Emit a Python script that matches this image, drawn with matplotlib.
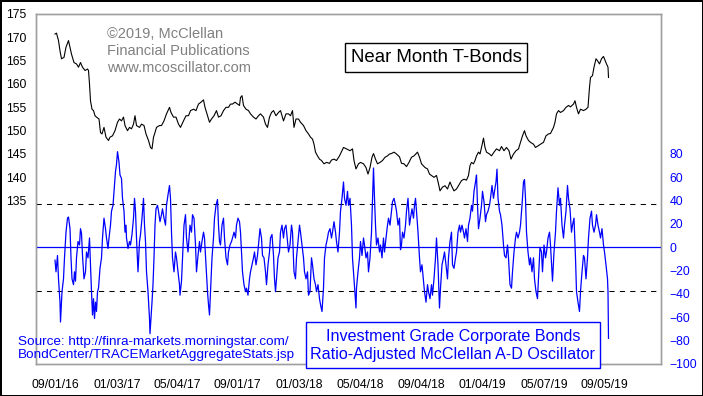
import matplotlib.pyplot as plt
import pandas as pd
from matplotlib.patches import Rectangle

plt.rcParams['font.family'] = ['Liberation Sans', 'DejaVu Sans']

start = pd.Timestamp('2016-09-01')

# Near month T-Bond price (days after 09/01/16, price)
bond_days = [0, 3, 7, 10, 13, 18, 22, 27, 30, 33,
             38, 43, 47, 51, 55, 60, 65, 67, 69, 71,
             74, 77, 80, 83, 88, 91, 94, 98, 102, 107,
             110, 115, 120, 125, 129, 133, 137, 140, 145, 149,
             153, 157, 160, 163, 169, 173, 178, 182, 187, 191,
             194, 197, 200, 203, 209, 213, 218, 223, 229, 232,
             237, 242, 247, 251, 257, 262, 267, 271, 277, 282,
             287, 292, 297, 300, 305, 309, 313, 318, 323, 327,
             332, 337, 342, 347, 351, 355, 360, 365, 369, 371,
             374, 377, 382, 387, 391, 397, 402, 407, 411, 417,
             421, 425, 429, 433, 437, 442, 447, 451, 457, 462,
             467, 471, 475, 478, 482, 487, 491, 497, 502, 507,
             511, 515, 518, 521, 525, 529, 533, 538, 543, 549,
             553, 558, 563, 569, 577, 583, 590, 595, 598, 602,
             607, 611, 617, 622, 626, 630, 634, 637, 641, 645,
             650, 655, 660, 665, 669, 673, 678, 683, 689, 693,
             698, 703, 708, 713, 718, 725, 729, 733, 740, 745,
             749, 753, 758, 763, 767, 770, 775, 780, 785, 790,
             793, 798, 803, 809, 813, 818, 823, 827, 830, 833,
             837, 840, 843, 847, 850, 853, 857, 860, 863, 869,
             873, 878, 883, 889, 893, 898, 903, 908, 912, 917,
             922, 927, 931, 935, 939, 942, 947, 951, 957, 961,
             967, 971, 977, 982, 987, 991, 997, 1000, 1003, 1007,
             1011, 1017, 1022, 1027, 1031, 1037, 1040, 1043, 1047, 1051,
             1057, 1062, 1066, 1069, 1071, 1075, 1078, 1082, 1085, 1089,
             1093, 1097, 1100, 1103, 1106, 1107]
bond_price = [170.7, 170.9, 169.3, 167.1, 165.4, 165.7, 167.9, 169.3, 167.9, 166.4,
              164.6, 164.3, 163.6, 164.6, 163.6, 162.9, 163.2, 162.9, 160.0, 156.4,
              154.6, 154.3, 153.2, 152.9, 152.5, 149.6, 149.3, 150.7, 148.6, 147.9,
              148.6, 148.9, 150.0, 151.8, 152.5, 152.1, 152.9, 151.1, 150.0, 150.7,
              150.4, 151.4, 153.2, 151.1, 150.7, 151.4, 151.1, 149.3, 147.9, 146.4,
              146.1, 148.6, 149.6, 150.7, 151.1, 151.1, 152.1, 153.6, 155.0, 153.9,
              152.9, 152.9, 151.4, 150.7, 152.1, 153.2, 153.2, 154.3, 154.6, 154.3,
              155.7, 156.1, 156.6, 155.0, 153.2, 151.8, 152.5, 153.2, 154.3, 152.9,
              153.2, 154.3, 155.0, 155.0, 155.7, 155.7, 156.1, 155.7, 155.4, 157.1,
              157.5, 155.4, 154.6, 154.3, 153.6, 152.9, 152.5, 153.2, 153.6, 152.9,
              151.4, 150.7, 152.9, 153.9, 154.3, 153.2, 153.9, 154.3, 152.1, 153.6,
              153.6, 153.2, 154.3, 150.7, 152.5, 152.5, 151.8, 151.1, 150.0, 149.3,
              148.6, 148.2, 147.1, 145.4, 144.6, 143.9, 143.6, 142.9, 143.2, 143.0,
              143.7, 143.9, 143.6, 144.6, 146.4, 146.1, 145.7, 146.1, 143.6, 141.8,
              142.9, 143.2, 142.9, 142.1, 140.7, 142.1, 144.3, 145.1, 143.9, 142.9,
              143.2, 143.6, 144.3, 144.6, 145.0, 145.1, 145.4, 145.0, 144.4, 143.0,
              142.9, 142.3, 143.2, 144.3, 144.6, 145.4, 144.3, 142.9, 142.1, 141.8,
              140.7, 140.4, 140.0, 140.4, 138.6, 137.1, 137.9, 138.2, 137.5, 139.0,
              138.2, 137.1, 137.5, 138.6, 139.3, 139.6, 139.4, 140.4, 142.5, 143.2,
              142.9, 143.6, 144.6, 145.4, 145.0, 146.4, 148.4, 146.4, 145.4, 145.0,
              144.6, 145.4, 146.1, 145.7, 146.6, 145.7, 146.4, 145.7, 143.9, 145.0,
              145.7, 146.1, 147.5, 148.9, 150.0, 148.9, 147.9, 147.5, 147.1, 146.4,
              146.8, 147.1, 147.5, 148.9, 149.3, 149.4, 150.7, 151.8, 153.6, 154.3,
              153.9, 154.3, 155.0, 155.4, 155.1, 155.7, 156.4, 155.0, 153.6, 154.6,
              154.3, 154.6, 155.0, 159.3, 161.4, 161.8, 163.6, 165.4, 165.0, 164.3,
              165.4, 165.9, 165.1, 164.3, 163.6, 161.4]

# Ratio-adjusted McClellan A-D oscillator, investment grade corporate bonds
osc_days = [0, 2, 5, 7, 10, 11, 14, 17, 19, 22,
            25, 27, 30, 32, 34, 37, 39, 41, 43, 46,
            49, 51, 53, 55, 58, 61, 63, 66, 69, 71,
            73, 75, 77, 79, 81, 83, 85, 87, 90, 93,
            95, 98, 101, 103, 106, 108, 111, 113, 116, 118,
            121, 123, 125, 128, 130, 133, 135, 138, 140, 142,
            143, 146, 149, 151, 154, 157, 159, 161, 163, 166,
            169, 171, 174, 177, 179, 181, 183, 186, 189, 190,
            192, 194, 196, 198, 200, 202, 205, 207, 210, 213,
            215, 218, 221, 223, 226, 229, 231, 233, 235, 238,
            241, 243, 246, 249, 250, 253, 255, 258, 261, 263,
            266, 270, 273, 275, 278, 281, 283, 286, 289, 291,
            294, 297, 299, 302, 305, 307, 309, 311, 314, 317,
            319, 322, 325, 327, 329, 331, 334, 337, 339, 342,
            345, 347, 350, 353, 355, 358, 361, 363, 366, 369,
            371, 373, 375, 378, 381, 383, 386, 389, 391, 394,
            397, 399, 402, 405, 407, 410, 413, 415, 418, 421,
            423, 426, 429, 431, 434, 437, 439, 441, 443, 446,
            449, 451, 454, 457, 459, 462, 465, 467, 470, 473,
            475, 478, 481, 483, 486, 489, 491, 494, 497, 499,
            502, 505, 507, 510, 513, 515, 518, 521, 523, 526,
            529, 531, 534, 537, 539, 542, 545, 547, 550, 553,
            555, 558, 561, 563, 566, 569, 571, 574, 577, 579,
            582, 585, 587, 590, 593, 595, 598, 600, 602, 603,
            606, 609, 611, 614, 617, 619, 622, 625, 627, 630,
            633, 635, 637, 639, 641, 643, 646, 649, 651, 654,
            657, 659, 662, 665, 667, 670, 673, 675, 678, 681,
            683, 686, 689, 691, 693, 695, 698, 701, 703, 706,
            709, 711, 714, 717, 719, 721, 723, 726, 729, 731,
            734, 737, 739, 742, 745, 747, 750, 753, 755, 758,
            761, 763, 766, 769, 771, 774, 777, 779, 782, 785,
            787, 790, 793, 795, 798, 801, 803, 806, 809, 811,
            814, 817, 819, 822, 825, 827, 830, 833, 835, 838,
            841, 843, 845, 847, 850, 853, 855, 858, 861, 863,
            866, 869, 871, 874, 877, 879, 882, 884, 886, 889,
            891, 894, 897, 899, 902, 905, 907, 910, 913, 915,
            918, 921, 923, 926, 929, 931, 934, 937, 939, 941,
            943, 946, 949, 951, 954, 957, 959, 962, 965, 967,
            970, 973, 975, 978, 981, 983, 986, 989, 991, 994,
            995, 998, 1001, 1003, 1006, 1009, 1011, 1014, 1017, 1019,
            1022, 1025, 1027, 1030, 1033, 1035, 1038, 1041, 1043, 1046,
            1049, 1051, 1054, 1057, 1059, 1062, 1065, 1067, 1070, 1073,
            1075, 1078, 1081, 1083, 1086, 1089, 1091, 1094, 1097, 1099,
            1102, 1105, 1106, 1107]
osc_value = [-11, -21, -7, -27, -47, -64, -38, -27, -9, 13,
             25, 26, 16, -9, -27, -32, -21, -29, -9, 5,
             2, 16, 12, -7, -27, -21, -4, -9, 8, -15,
             -38, -58, -44, -61, -47, -55, -38, -35, -18, -9,
             8, 25, 16, 8, -1, 8, 19, 31, 36, 48,
             65, 71, 82, 73, 62, 59, 42, 31, 13, 19,
             8, -1, 5, 2, 11, 25, 42, 31, 8, -21,
             5, 11, 25, 42, 19, 5, -21, -38, -61, -74,
             -61, -47, -32, -9, 19, 33, 36, 31, 22, 28,
             33, 25, 19, 36, 45, 53, 42, 13, -9, -21,
             -4, -9, -21, -32, -41, -29, -9, 19, 28, 8,
             -4, 19, 13, 28, 25, 2, -21, -7, 5, -4,
             5, 13, 8, -15, -38, -49, -58, -38, -9, 8,
             25, 36, 41, 19, 5, 2, 19, 25, 8, -9,
             -15, -4, 2, 5, 8, 13, 8, 19, 25, 22,
             13, -4, -21, -32, -38, -35, -41, -27, -21, -15,
             -9, -4, -15, -7, 2, 16, 8, -7, -9, -21,
             -32, -15, -4, 8, 11, -7, -27, -38, -27, -9,
             -4, 13, 19, 8, 16, 19, 5, -4, 2, 19,
             13, -21, -27, -9, 5, 19, 13, 2, -9, -21,
             -27, -21, -41, -38, -9, -15, -27, -32, -38, -32,
             -44, -49, -55, -35, -9, 2, 8, 13, 16, 8,
             13, 22, 13, 5, -4, 13, 31, 42, 56, 42,
             36, 48, 36, 42, 19, -9, -27, -38, -52, -35,
             -21, -9, 5, -7, 8, 2, -9, -4, -21, -9,
             13, 42, 68, 42, 19, 2, 8, -4, 2, -9,
             8, -4, 8, 19, 25, 19, 31, 39, 42, 36,
             31, 19, 25, -2, 2, 13, 8, 19, 31, 42,
             19, 25, 33, 25, 36, 42, 31, 13, -9, -21,
             -15, -29, -38, -47, -32, -38, -44, -32, -41, -27,
             -9, 8, -15, -52, -35, -15, -9, -4, -15, -27,
             -9, 5, 13, -15, -18, -9, -4, 13, 19, 13,
             19, 13, 8, 16, 5, 19, 25, 36, 31, 48,
             56, 62, 36, 16, 25, 36, 48, 39, 22, 28,
             31, 36, 42, 53, 42, 48, 56, 67, 42, 31,
             28, 19, 2, -7, -9, 2, -9, -32, -35, -21,
             -4, 8, 13, 8, 13, 19, 36, 56, 58, 42,
             13, -4, -15, -9, -21, -9, -27, -38, -44, -27,
             0, -4, -21, 2, -9, -4, 8, 13, 2, -21,
             -29, -4, 13, 31, 51, 36, 42, 19, 8, 19,
             31, 53, 42, 33, 13, 19, 25, -9, -38, -47,
             -55, -38, -21, -7, -9, -27, -9, 8, 25, 31,
             19, 13, 19, 28, 19, 13, 8, 16, 2, -4,
             -15, -27, -38, -78]

tick_labels = ['09/01/16', '01/03/17', '05/04/17', '09/01/17', '01/03/18',
               '05/04/18', '09/04/18', '01/04/19', '05/07/19', '09/05/19']
bond_ticks = [135, 140, 145, 150, 155, 160, 165, 170, 175]
osc_ticks = [-100, -80, -60, -40, -20, 0, 20, 40, 60, 80]

bond_dates = start + pd.to_timedelta(bond_days, unit='D')
osc_dates = start + pd.to_timedelta(osc_days, unit='D')
tick_dates = pd.to_datetime(tick_labels, format='%m/%d/%y')

fig = plt.figure(figsize=(7.03, 3.96), dpi=100)
fig.patch.set_edgecolor('black')
fig.patch.set_linewidth(2)

ax = fig.add_axes([36 / 703, 32 / 396, 625 / 703, 350 / 396])
ax2 = ax.twinx()

ax.plot(bond_dates, bond_price, color='black', lw=0.8)
ax.set_ylim(100, 175)
ax.set_yticks(bond_ticks)
ax.set_xlim(start - pd.Timedelta(days=38), start + pd.Timedelta(days=1212))
ax.set_xticks(tick_dates)
ax.set_xticklabels(tick_labels)

ax2.axhline(0, color='blue', lw=0.9)
ax2.axhline(37, color='black', lw=0.75, ls=(0, (5, 5)))
ax2.axhline(-37, color='black', lw=0.75, ls=(0, (5, 5)))
ax2.plot(osc_dates, osc_value, color='blue', lw=0.9)
ax2.set_ylim(-100, 200)
ax2.set_yticks(osc_ticks)

for a in (ax, ax2):
    for s in a.spines.values():
        s.set_color('#a0a0a0')
        s.set_linewidth(1)
ax.tick_params(axis='both', length=0, labelsize=8.8)
ax.tick_params(axis='y', pad=7)
ax.tick_params(axis='x', pad=11)
ax2.tick_params(axis='y', length=0, labelsize=8.8, pad=6, labelcolor='blue')

fig.text(107 / 703, 1 - 51 / 396,
         '\u00a92019, McClellan\nFinancial Publications\nwww.mcoscillator.com',
         color='#808080', fontsize=10.5, ha='left', va='center', linespacing=1.27)

fig.text(436 / 703, 1 - 57.5 / 396, 'Near Month T-Bonds', fontsize=13.4,
         ha='center', va='center',
         bbox=dict(boxstyle='square,pad=0.3', fc='white', ec='black', lw=1))

fig.text(17.7 / 703, 1 - 348.3 / 396,
         'Source: http://finra-markets.morningstar.com/\nBondCenter/TRACEMarketAggregateStats.jsp',
         color='blue', fontsize=9.7, ha='left', va='center', linespacing=1.17)

fig.add_artist(Rectangle((305.7 / 703, 1 - 368.3 / 396), 294.3 / 703, 46 / 396,
                         transform=fig.transFigure, fc='white', ec='blue', lw=1))
fig.text(452.8 / 703, 1 - 345.7 / 396,
         'Investment Grade Corporate Bonds\nRatio-Adjusted McClellan A-D Oscillator',
         color='blue', fontsize=11.65, ha='center', va='center', linespacing=1.2)

fig.savefig('out.png', dpi=100)
